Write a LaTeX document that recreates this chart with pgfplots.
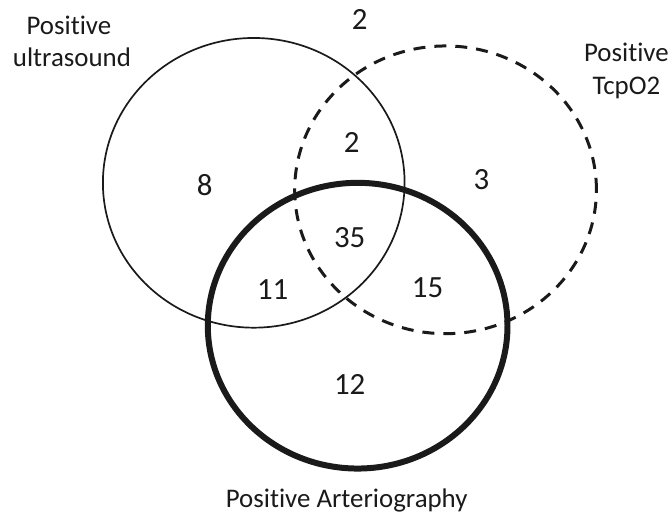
\documentclass[border=0pt]{standalone}
\usepackage{pgfplots}
\pgfplotsset{compat=1.18}
\usepackage{pgfplotstable}
\usepackage{fontspec}
\setmainfont{Carlito}[Ligatures=NoCommon]
\definecolor{ink}{HTML}{1A1A1A}
\pgfplotstableread{
x y n
360 20 2
205 185 8
352 143 2
482 180 3
350 238 35
273 290 11
428 288 15
350 385 12
}\counts
\begin{document}
\begin{tikzpicture}
\begin{axis}[width=672bp,height=515bp,scale only axis,
  xmin=0,xmax=672,ymin=0,ymax=515,y dir=reverse,hide axis,clip=false]
\path (axis cs:0,0) rectangle (axis cs:672,515);
\draw[ink,line width=1.7bp] (axis cs:254,183) ellipse [x radius=151bp,y radius=145bp];
\draw[ink,line width=3bp,dash pattern=on 12bp off 9bp] (axis cs:446,190) ellipse [x radius=151bp,y radius=144bp];
\draw[ink,line width=6bp] (axis cs:358,326) ellipse [x radius=150bp,y radius=143bp];
\addplot[draw=none,mark=none,nodes near coords,point meta=explicit symbolic,
  every node near coord/.append style={anchor=center,font=\fontsize{31}{36}\selectfont,text=ink}]
  table[x=x,y=y,meta=n]{\counts};
\node[anchor=base,text=ink,font=\fontsize{27}{31}\selectfont] at (axis cs:69,35) {Positive};
\node[anchor=base,text=ink,font=\fontsize{27}{31}\selectfont] at (axis cs:72,67) {ultrasound};
\node[anchor=base,text=ink,font=\fontsize{27}{31}\selectfont] at (axis cs:627,62) {Positive};
\node[anchor=base,text=ink,font=\fontsize{27}{31}\selectfont] at (axis cs:627,95) {TcpO2};
\node[anchor=base,text=ink,font=\fontsize{27}{31}\selectfont] at (axis cs:347,508) {Positive Arteriography};
\end{axis}
\end{tikzpicture}
\end{document}
